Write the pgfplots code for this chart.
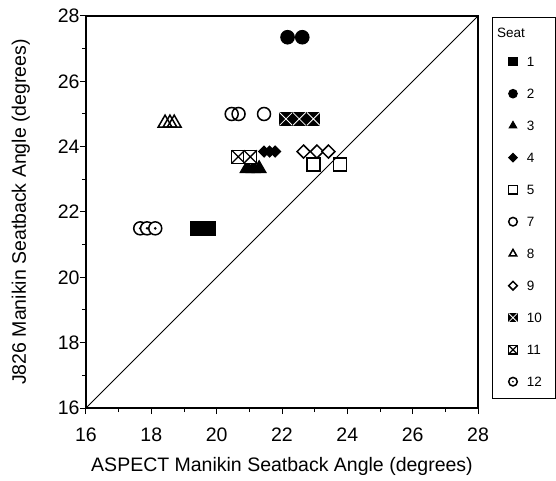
\documentclass[border=0pt]{standalone}
\usepackage{fontspec}
\setmainfont{Liberation Sans}
\usepackage{pgfplots}
\pgfplotsset{compat=1.18}

\pgfdeclareplotmark{dia}{%
  \pgfpathmoveto{\pgfqpoint{0pt}{\pgfplotmarksize}}%
  \pgfpathlineto{\pgfqpoint{\pgfplotmarksize}{0pt}}%
  \pgfpathlineto{\pgfqpoint{0pt}{-\pgfplotmarksize}}%
  \pgfpathlineto{\pgfqpoint{-\pgfplotmarksize}{0pt}}%
  \pgfpathclose\pgfusepathqfillstroke}
\pgfdeclareplotmark{sqXopen}{%
  \pgfpathrectangle{\pgfqpoint{-\pgfplotmarksize}{-\pgfplotmarksize}}{\pgfqpoint{2\pgfplotmarksize}{2\pgfplotmarksize}}%
  \pgfusepathqfillstroke
  \pgfpathmoveto{\pgfqpoint{-\pgfplotmarksize}{-\pgfplotmarksize}}\pgfpathlineto{\pgfqpoint{\pgfplotmarksize}{\pgfplotmarksize}}%
  \pgfpathmoveto{\pgfqpoint{-\pgfplotmarksize}{\pgfplotmarksize}}\pgfpathlineto{\pgfqpoint{\pgfplotmarksize}{-\pgfplotmarksize}}%
  \pgfusepathqstroke}
\pgfdeclareplotmark{sqXfill}{%
  \pgfpathrectangle{\pgfqpoint{-\pgfplotmarksize}{-\pgfplotmarksize}}{\pgfqpoint{2\pgfplotmarksize}{2\pgfplotmarksize}}%
  \pgfusepathqfillstroke
  \begin{pgfscope}\pgfsetstrokecolor{white}\pgfsetlinewidth{0.8bp}%
  \pgfpathmoveto{\pgfqpoint{-\pgfplotmarksize}{-\pgfplotmarksize}}\pgfpathlineto{\pgfqpoint{\pgfplotmarksize}{\pgfplotmarksize}}%
  \pgfpathmoveto{\pgfqpoint{-\pgfplotmarksize}{\pgfplotmarksize}}\pgfpathlineto{\pgfqpoint{\pgfplotmarksize}{-\pgfplotmarksize}}%
  \pgfusepathqstroke\end{pgfscope}}
\pgfdeclareplotmark{codot}{%
  \pgfpathcircle{\pgfpointorigin}{\pgfplotmarksize}\pgfusepathqfillstroke
  \begin{pgfscope}\pgfsetfillcolor{black}%
  \pgfpathcircle{\pgfpointorigin}{0.22\pgfplotmarksize}\pgfusepathqfill\end{pgfscope}}

\begin{document}
\begin{tikzpicture}
\begin{axis}[
  scale only axis, width=392bp, height=392bp,
  xmin=16, xmax=28, ymin=16, ymax=28,
  xtick={16,18,...,28}, ytick={16,18,...,28},
  minor tick num=1,
  tick align=outside, xtick pos=left, ytick pos=left,
  major tick length=6bp, minor tick length=4bp,
  axis line style={line width=1.1bp},
  every tick/.style={black, line width=1bp},
  tick label style={font=\fontsize{19.5bp}{22bp}\selectfont},
  xticklabel style={yshift=-10bp},
  yticklabel style={xshift=3bp},
  label style={font=\fontsize{19.5bp}{22bp}\selectfont},
  /pgf/number format/assume math mode=true,
  xlabel={ASPECT Manikin Seatback Angle (degrees)},
  ylabel={J826 Manikin Seatback Angle (degrees)},
  xlabel style={at={(axis description cs:0.5,-0.148)}, anchor=center},
  ylabel style={at={(axis description cs:-0.166,0.5)}, anchor=center},
  legend image code/.code={\path[draw=none,fill=none] (-7bp,-5bp) rectangle (7bp,5bp); \draw[#1, mark size=4.3bp] plot coordinates {(0bp,0bp)};},
  legend style={at={(axis description cs:1.0714,0.8962)}, anchor=north west, draw=none, fill=none,
    inner sep=0pt, outer sep=0pt, row sep=22.0bp, column sep=7bp,
    nodes={inner sep=0pt, text height=10bp, text depth=0bp},
    font=\fontsize{13.5bp}{15bp}\selectfont},
  legend cell align=left,
]
\addplot[black, line width=0.8bp, forget plot] coordinates {(16,16) (28,28)};
\addplot[only marks, mark=square*, mark size=6.7bp, mark options={draw=black, fill=black, line width=1bp}]
  coordinates {(19.4,21.5) (19.6,21.5) (19.75,21.5)};
\addlegendentry{1}
\addplot[only marks, mark=*, mark size=6.8bp, mark options={draw=black, fill=black, line width=1bp}]
  coordinates {(22.17,27.35) (22.62,27.35)};
\addlegendentry{2}
\addplot[only marks, mark=triangle*, mark size=8bp, mark options={draw=black, fill=black, line width=1bp}]
  coordinates {(20.93,23.33) (21.12,23.33) (21.3,23.33)};
\addlegendentry{3}
\addplot[only marks, mark=dia, mark size=5.5bp, mark options={draw=black, fill=black, line width=1bp}]
  coordinates {(21.45,23.85) (21.62,23.85) (21.79,23.85)};
\addlegendentry{4}
\addplot[only marks, mark=square, mark size=6.5bp, mark options={draw=black, fill=white, line width=1.5bp}]
  coordinates {(22.96,23.45) (23.78,23.45)};
\addlegendentry{5}
\addplot[only marks, mark=o, mark size=6.5bp, mark options={draw=black, fill=white, line width=1.5bp}]
  coordinates {(20.46,25.0) (20.67,25.0) (21.45,25.0)};
\addlegendentry{7}
\addplot[only marks, mark=triangle, mark size=8bp, mark options={draw=black, fill=white, line width=1.5bp}]
  coordinates {(18.42,24.72) (18.57,24.72) (18.7,24.72)};
\addlegendentry{8}
\addplot[only marks, mark=dia, mark size=6.5bp, mark options={draw=black, fill=white, line width=1.5bp}]
  coordinates {(22.66,23.85) (23.07,23.85) (23.42,23.85)};
\addlegendentry{9}
\addplot[only marks, mark=sqXfill, mark size=6.5bp, mark options={draw=black, fill=black, line width=1bp}]
  coordinates {(22.12,24.85) (22.53,24.85) (22.96,24.85)};
\addlegendentry{10}
\addplot[only marks, mark=sqXopen, mark size=6.5bp, mark options={draw=black, fill=white, line width=1.3bp}]
  coordinates {(20.66,23.69) (21.03,23.69)};
\addlegendentry{11}
\addplot[only marks, mark=codot, mark size=6.5bp, mark options={draw=black, fill=white, line width=1.5bp}]
  coordinates {(17.66,21.5) (17.87,21.5) (18.12,21.5)};
\addlegendentry{12}
\end{axis}
\draw[line width=0.8bp] (406bp,10bp) rectangle (469.5bp,391bp);
\node[anchor=west, inner sep=0pt, font=\fontsize{13.5bp}{15bp}\selectfont] at (411bp,375bp) {Seat};
\pgfresetboundingbox
\useasboundingbox (-86bp,-73bp) rectangle (470bp,408bp);
\end{tikzpicture}
\end{document}
